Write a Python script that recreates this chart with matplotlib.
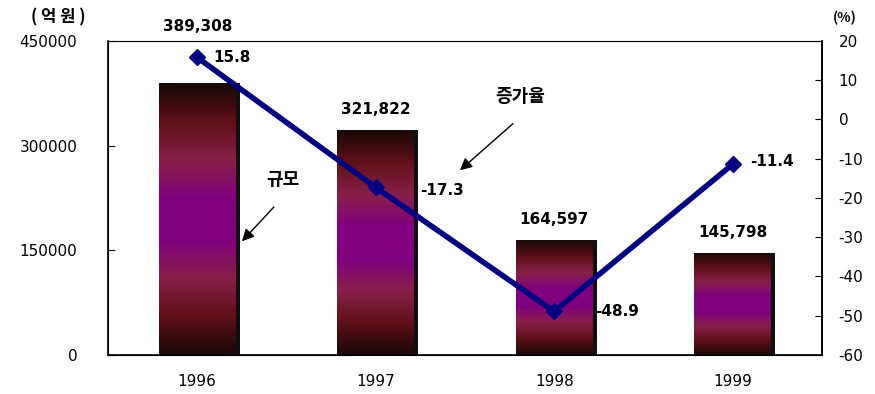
import numpy as np
import matplotlib
matplotlib.use("Agg")
import matplotlib.pyplot as plt
from matplotlib.colors import LinearSegmentedColormap

plt.rcParams['font.family'] = ['Noto Sans CJK KR', 'DejaVu Sans']
plt.rcParams['axes.unicode_minus'] = False

# data
years = ['1996', '1997', '1998', '1999']
scale = [389308, 321822, 164597, 145798]   # 규모 (억원)
growth = [15.8, -17.3, -48.9, -11.4]       # 증가율 (%)

fig = plt.figure(figsize=(8.75, 3.94), dpi=100)
ax = fig.add_axes([0.1234, 0.099, 0.816, 0.797])
ax2 = ax.twinx()

x = np.arange(len(years))
bw = 0.43

# gradient bars: dark ends, red-brown band, purple middle
cmap = LinearSegmentedColormap.from_list(
    'bar', ['#1a0808', '#601018', '#88204a', '#800080', '#800080',
            '#88204a', '#601018', '#1a0808'])
grad = np.linspace(0, 1, 256).reshape(-1, 1)
bars = ax.bar(x, scale, width=bw, color='none', edgecolor='none', zorder=2)
for b, v in zip(bars, scale):
    x0 = b.get_x()
    im = ax.imshow(grad, cmap=cmap, aspect='auto', origin='lower',
                   extent=[x0, x0 + bw, 0, v], zorder=2)
    im.set_clip_path(b)
    # dark shadow on the right edge
    ax.bar(x0 + bw + 0.012, v, width=0.024, color='#101010', zorder=2)

# value labels above bars (first one sits above the line marker)
lab_off = [81000, 30000, 30000, 30000]
for xi, v, off in zip(x, scale, lab_off):
    ax.text(xi, v + off, f'{v:,}', ha='center', va='center',
            fontsize=11, fontweight='bold', family='DejaVu Sans',
            clip_on=False)

ax.set_xlim(-0.5, 3.5)
ax.set_ylim(0, 450000)
ax.set_yticks([0, 150000, 300000, 450000])
ax.set_yticklabels(['0', '150000', '300000', '450000'], fontsize=11,
                   family='DejaVu Sans')
ax.set_xticks(x)
ax.set_xticklabels(years, fontsize=11, family='DejaVu Sans')
ax.tick_params(axis='x', length=0, pad=14)
ax.tick_params(axis='y', direction='in', length=5, pad=22)
for s in ax.spines.values():
    s.set_linewidth(1.2)
ax.spines['top'].set_linewidth(0.8)

ax2.plot(x, growth, color='#000080', lw=4, marker='D', ms=8, zorder=5)
ax2.set_ylim(-60, 20)
ax2.set_yticks(range(-60, 21, 10))
ax2.tick_params(axis='y', direction='in', length=5, pad=12)
for t in ax2.get_yticklabels():
    t.set_fontsize(11)
    t.set_family('DejaVu Sans')
ax2.spines['top'].set_visible(False)
ax2.spines['right'].set_linewidth(1.2)

offsets = [(0.09, 0.1), (0.25, -0.7), (0.23, -0.1), (0.10, 0.6)]
for xi, g, (dx, dy) in zip(x, growth, offsets):
    ax2.text(xi + dx, g + dy, f'{g}', ha='left', va='center', fontsize=11,
             fontweight='bold', family='DejaVu Sans', zorder=6)

# callouts
ax.text(0.48, 251000, '규모', fontsize=13, fontweight='bold',
        ha='center', va='center')
ax.annotate('', xy=(0.24, 160000), xytext=(0.44, 215000),
            arrowprops=dict(arrowstyle='-|>', color='black', lw=1,
                            mutation_scale=18))
ax.text(1.81, 370000, '증가율', fontsize=13, fontweight='bold',
        ha='center', va='center')
ax.annotate('', xy=(1.46, 262000), xytext=(1.78, 334000),
            arrowprops=dict(arrowstyle='-|>', color='black', lw=1,
                            mutation_scale=18))

fig.text(0.035, 0.955, '( 억 원 )', fontsize=12, fontweight='bold',
         ha='left', va='center')
fig.text(0.952, 0.955, '(%)', fontsize=10, fontweight='bold',
         ha='left', va='center')

fig.savefig('out.png', dpi=100)
